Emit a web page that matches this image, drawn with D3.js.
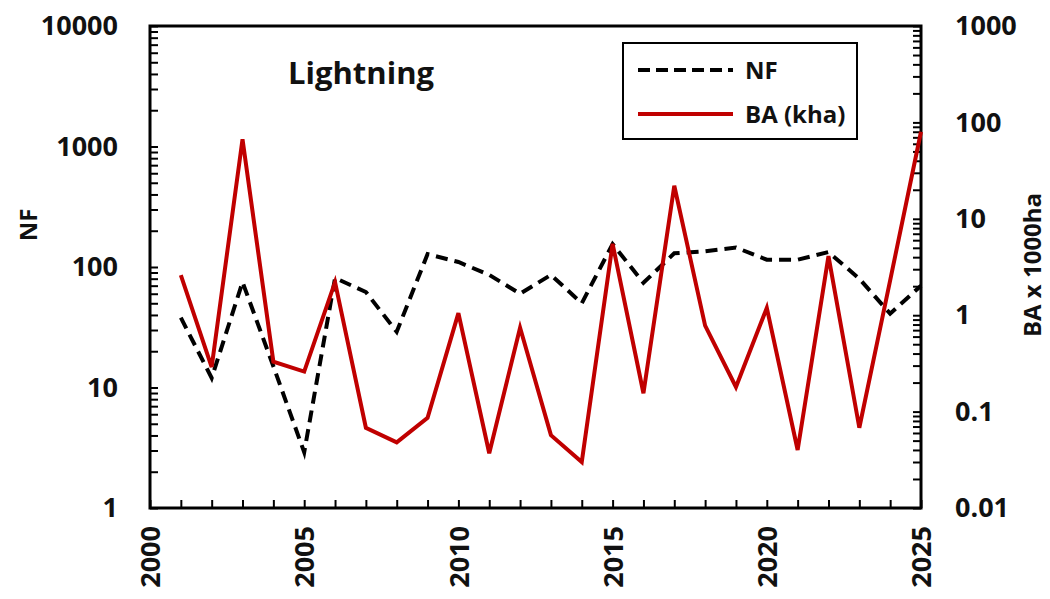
<!DOCTYPE html>
<html>
<head>
<meta charset="utf-8">
<script src="https://cdn.jsdelivr.net/npm/d3@7"></script>
<style>
  body { margin: 0; background: #fff; }
  text { font-family: "Open Sans", "Noto Sans", sans-serif; font-weight: 700; fill: #111; }
</style>
</head>
<body>
<div id="chart"></div>
<script>
// Data
const years = [2001, 2002, 2003, 2004, 2005, 2006, 2007, 2008, 2009, 2010, 2011, 2012, 2013,
               2014, 2015, 2016, 2017, 2018, 2019, 2020, 2021, 2022, 2023, 2024, 2025];
const nf = [38, 12, 75, 15, 2.9, 81, 62, 29, 128, 110, 86, 60, 86,
            50, 155, 74, 130, 135, 145, 115, 115, 133, 80, 41, 70];
const ba = [2.6, 0.29, 67, 0.33, 0.26, 2.2, 0.068, 0.048, 0.086, 1.05, 0.037, 0.74, 0.057,
            0.030, 5.5, 0.155, 22, 0.78, 0.18, 1.19, 0.040, 4.1, 0.068, 2.3, 80];
const leftTicks = [1, 10, 100, 1000, 10000];
const rightTicks = [0.01, 0.1, 1, 10, 100, 1000];
const xLabelYears = [2000, 2005, 2010, 2015, 2020, 2025];

const cfg = {
  width: 1050, height: 599,
  margin: {top: 26, right: 129, bottom: 91, left: 150},
  red: '#c00000'
};
const w = cfg.width - cfg.margin.left - cfg.margin.right;
const h = cfg.height - cfg.margin.top - cfg.margin.bottom;

const svg = d3.select('#chart').append('svg')
  .attr('width', cfg.width)
  .attr('height', cfg.height);

const g = svg.append('g')
  .attr('transform', `translate(${cfg.margin.left},${cfg.margin.top})`);

// Scales
const x = d3.scaleLinear().domain([2000, 2025]).range([0, w]);
const yL = d3.scaleLog().domain([1, 10000]).range([h, 0]);
const yR = d3.scaleLog().domain([0.01, 1000]).range([h, 0]);

// minor ticks for a log domain: 1..9 times each decade
function logTicks(lo, hi) {
  const out = [];
  for (let p = Math.round(Math.log10(lo)); p < Math.round(Math.log10(hi)); p++) {
    for (let k = 1; k < 10; k++) out.push(k * Math.pow(10, p));
  }
  out.push(hi);
  return out;
}
const isMajor = v => Math.abs(Math.log10(v) - Math.round(Math.log10(v))) < 1e-9;

// Left axis
const axL = g.append('g')
  .call(d3.axisLeft(yL)
    .tickValues(logTicks(1, 10000))
    .tickSize(-8)
    .tickPadding(32)
    .tickFormat(d => isMajor(d) && leftTicks.includes(Math.round(d)) ? d3.format('d')(d) : ''));

// Right axis
const axR = g.append('g')
  .attr('transform', `translate(${w},0)`)
  .call(d3.axisRight(yR)
    .tickValues(logTicks(0.01, 1000))
    .tickSize(-8)
    .tickPadding(34)
    .tickFormat(d => isMajor(d) ? String(rightTicks.find(t => Math.abs(t - d) / t < 1e-6)) : ''));

// Bottom axis
const axB = g.append('g')
  .attr('transform', `translate(0,${h})`)
  .call(d3.axisBottom(x)
    .tickValues(d3.range(2000, 2026))
    .tickSize(-8)
    .tickFormat(d => xLabelYears.includes(d) ? d : ''));

axB.selectAll('text')
  .attr('transform', 'rotate(-90)')
  .attr('x', -18)
  .attr('y', 0)
  .attr('dy', '0.36em')
  .style('text-anchor', 'end');

[axL, axR, axB].forEach(a => {
  a.select('.domain').remove();
  a.selectAll('line').attr('stroke', '#000').attr('stroke-width', 2);
  a.selectAll('text').style('font-size', '27px').attr('fill', '#111');
});

// Plot frame
g.append('rect')
  .attr('width', w)
  .attr('height', h)
  .attr('fill', 'none')
  .attr('stroke', '#000')
  .attr('stroke-width', 3);

// Lines
const nfLine = d3.line().x((d, i) => x(years[i])).y(d => yL(d));
const baLine = d3.line().x((d, i) => x(years[i])).y(d => yR(d));

g.append('path')
  .datum(nf)
  .attr('d', nfLine)
  .attr('fill', 'none')
  .attr('stroke', '#000')
  .attr('stroke-width', 4)
  .attr('stroke-dasharray', '12,7');

g.append('path')
  .datum(ba)
  .attr('d', baLine)
  .attr('fill', 'none')
  .attr('stroke', cfg.red)
  .attr('stroke-width', 4)
  .attr('stroke-linejoin', 'miter');

// Title
svg.append('text')
  .attr('x', 288)
  .attr('y', 84)
  .style('font-size', '31px')
  .text('Lightning');

// Axis titles
svg.append('text')
  .attr('transform', 'translate(37,225) rotate(-90)')
  .style('text-anchor', 'middle')
  .style('font-size', '24px')
  .text('NF');

svg.append('text')
  .attr('transform', 'translate(1041,265) rotate(-90)')
  .style('text-anchor', 'middle')
  .style('font-size', '24px')
  .text('BA x 1000ha');

// Legend
const leg = svg.append('g').attr('transform', 'translate(623,43)');
leg.append('rect')
  .attr('width', 234)
  .attr('height', 96)
  .attr('fill', '#fff')
  .attr('stroke', '#000')
  .attr('stroke-width', 2);
leg.append('line')
  .attr('x1', 15).attr('x2', 110).attr('y1', 27).attr('y2', 27)
  .attr('stroke', '#000').attr('stroke-width', 4).attr('stroke-dasharray', '12,6');
leg.append('line')
  .attr('x1', 15).attr('x2', 110).attr('y1', 71).attr('y2', 71)
  .attr('stroke', cfg.red).attr('stroke-width', 4);
leg.append('text').attr('x', 122).attr('y', 36).style('font-size', '24px').text('NF');
leg.append('text').attr('x', 122).attr('y', 80).style('font-size', '24px').text('BA (kha)');
</script>
</body>
</html>
